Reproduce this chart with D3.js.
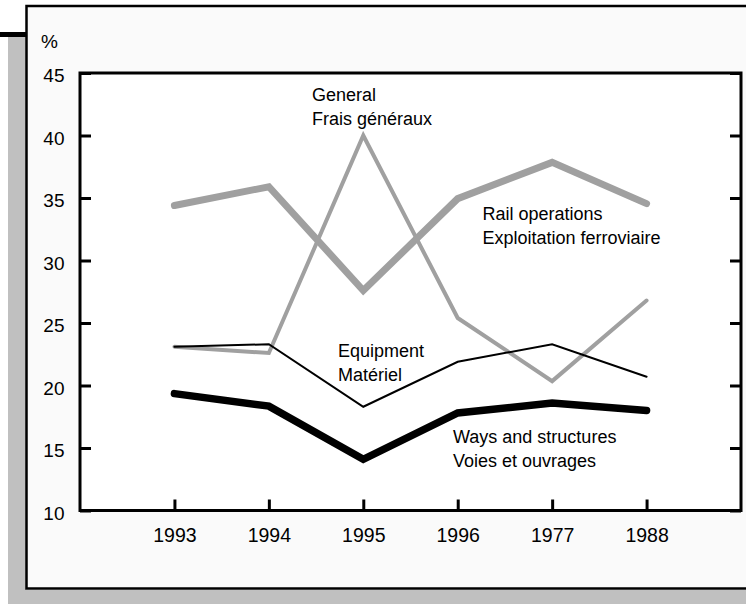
<!DOCTYPE html>
<html>
<head>
<meta charset="utf-8">
<script src="https://cdn.jsdelivr.net/npm/d3@7"></script>
<style>
  html, body { margin: 0; padding: 0; background: #ffffff; }
  svg { display: block; }
  text { font-family: "Liberation Sans", Arial, sans-serif; fill: #000; }
</style>
</head>
<body>
<svg id="chart" width="746" height="604"></svg>
<script>
// ---- data ----
const years = ["1993", "1994", "1995", "1996", "1977", "1988"];
const railOperations = [34.4, 35.9, 27.6, 34.95, 37.85, 34.55];
const generalCosts   = [23.1, 22.6, 40.0, 25.4, 20.35, 26.8];
const equipment      = [23.1, 23.3, 18.3, 21.9, 23.3, 20.7];
const waysStructures = [19.35, 18.35, 14.1, 17.8, 18.6, 18.0];
const yTicks = [10, 15, 20, 25, 30, 35, 40, 45];

const series = [
  { name: "Rail operations", label: ["Rail operations", "Exploitation ferroviaire"], values: railOperations, color: "#a0a0a0", width: 7 },
  { name: "General", label: ["General", "Frais généraux"], values: generalCosts, color: "#a0a0a0", width: 4 },
  { name: "Equipment", label: ["Equipment", "Matériel"], values: equipment, color: "#000000", width: 2 },
  { name: "Ways", label: ["Ways and structures", "Voies et ouvrages"], values: waysStructures, color: "#000000", width: 7.5 }
];
const labelPos = {
  "Rail operations": [482.5, 220],
  "General": [312, 100.5],
  "Equipment": [338, 356.5],
  "Ways": [453, 443]
};

const svg = d3.select("#chart");

// background decoration: shadow + frame
svg.append("rect").attr("x", 8).attr("y", 37).attr("width", 18).attr("height", 567).attr("fill", "#c0c0c0");
svg.append("rect").attr("x", 8).attr("y", 590).attr("width", 738).attr("height", 14).attr("fill", "#c0c0c0");
svg.append("rect").attr("x", 0).attr("y", 32).attr("width", 27).attr("height", 5).attr("fill", "#000");
svg.append("rect").attr("x", 26.5).attr("y", 6).attr("width", 730).attr("height", 582.5)
  .attr("fill", "#fafafa").attr("stroke", "#000").attr("stroke-width", 2.5);

// plot area
const L = 80, R = 741, T = 73, B = 510.5;
svg.append("rect").attr("x", L).attr("y", T).attr("width", R - L).attr("height", B - T).attr("fill", "#fff");

const x = d3.scalePoint().domain(years).range([L, R]).padding(1);
const y = d3.scaleLinear().domain([10, 45]).range([B, T]);

// lines
const line = d3.line().x((d, i) => x(years[i])).y(d => y(d));
series.forEach(s => {
  svg.append("path")
    .datum(s.values)
    .attr("d", line)
    .attr("fill", "none")
    .attr("stroke", s.color)
    .attr("stroke-width", s.width)
    .attr("stroke-linecap", "round")
    .attr("stroke-linejoin", "miter");
});

// frame of plot
svg.append("rect").attr("x", L).attr("y", T).attr("width", R - L).attr("height", B - T)
  .attr("fill", "none").attr("stroke", "#000").attr("stroke-width", 3);

// left axis
const yAxis = d3.axisLeft(y).tickValues(yTicks).tickSize(-11).tickSizeOuter(0).tickPadding(15.5);
const gy = svg.append("g").attr("transform", `translate(${L},0)`).call(yAxis);
gy.select(".domain").remove();
gy.selectAll(".tick line").attr("stroke", "#000").attr("stroke-width", 3);
gy.selectAll(".tick text").attr("font-size", "19px").attr("font-family", "Liberation Sans, Arial, sans-serif").attr("fill", "#000").attr("dy", "0.45em");

// right axis (inner ticks)
const yAxisR = d3.axisRight(y).tickValues(yTicks).tickSize(-11).tickSizeOuter(0).tickFormat("");
const gyr = svg.append("g").attr("transform", `translate(${R},0)`).call(yAxisR);
gyr.select(".domain").remove();
gyr.selectAll(".tick line").attr("stroke", "#000").attr("stroke-width", 3);

// bottom axis
const xAxis = d3.axisBottom(x).tickSize(-11).tickSizeOuter(0).tickPadding(18);
const gx = svg.append("g").attr("transform", `translate(0,${B})`).call(xAxis);
gx.select(".domain").remove();
gx.selectAll(".tick line").attr("stroke", "#000").attr("stroke-width", 3);
gx.selectAll(".tick text").attr("font-size", "19.5px").attr("font-family", "Liberation Sans, Arial, sans-serif").attr("fill", "#000");

// unit
svg.append("text").attr("x", 41).attr("y", 48).attr("font-size", "19px").text("%");

// series labels
series.forEach(s => {
  const [lx, ly] = labelPos[s.name];
  const t = svg.append("text").attr("x", lx).attr("y", ly).attr("font-size", "18px");
  s.label.forEach((ln, i) => {
    t.append("tspan").attr("x", lx).attr("dy", i === 0 ? 0 : 24).text(ln);
  });
});
</script>
</body>
</html>
